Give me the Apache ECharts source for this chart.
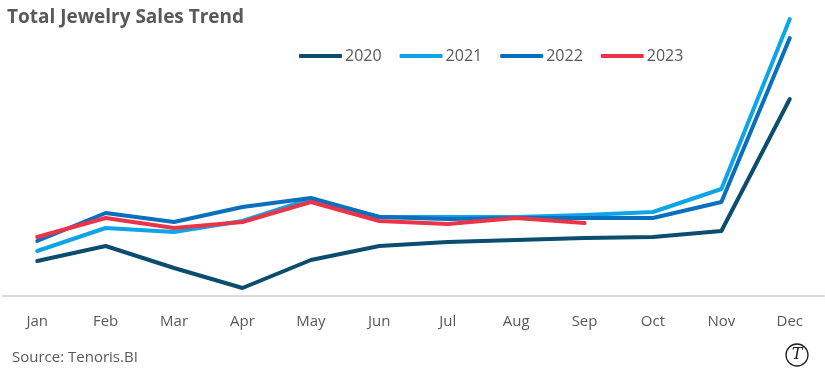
<!DOCTYPE html>
<html>
<head>
<meta charset="utf-8">
<script src="https://cdn.jsdelivr.net/npm/echarts@6/dist/echarts.min.js"></script>
<style>html,body{margin:0;padding:0;background:#fff}#c{width:825px;height:372px}</style>
</head>
<body>
<div id="c"></div>
<script>
const months = ['Jan','Feb','Mar','Apr','May','Jun','Jul','Aug','Sep','Oct','Nov','Dec'];
const s2020 = [35, 50, 28, 8, 36, 50, 54, 56, 58, 59, 65, 197];
const s2021 = [45, 68, 64, 75, 97, 79, 79, 79, 81, 84, 107, 277];
const s2022 = [55, 83, 74, 89, 98, 79, 77, 78, 78, 78, 94, 258];
const s2023 = [59, 78, 68, 74, 94, 75, 72, 78, 73];

const chart = echarts.init(document.getElementById('c'), null, {renderer:'canvas'});
const F = "'Open Sans', sans-serif";
function line(name, data, color){
  return {name, type:'line', data, symbol:'none', smooth:false,
    lineStyle:{width:4, color, cap:'round', join:'round'}, itemStyle:{color}, z: 2};
}
chart.setOption({
  animation:false,
  title:{text:'Total Jewelry Sales Trend', left:2, top:3,
    textStyle:{fontFamily:F, fontSize:19, fontWeight:'bold', color:'#595959'}},
  legend:{left:294, top:43, itemWidth:43, itemHeight:4, itemGap:18,
    icon:'roundRect',
    textStyle:{fontFamily:F, fontSize:16, color:'#595959', padding:[0,0,0,-2]},
    data:['2020','2021','2022','2023']},
  grid:{left:3, right:1, top:16, bottom:76, containLabel:false},
  xAxis:{type:'category', data:months, boundaryGap:true,
    axisLine:{lineStyle:{color:'#d9d9d9', width:2}},
    axisTick:{show:false},
    axisLabel:{fontFamily:F, fontSize:15, color:'#595959', margin:18}},
  yAxis:{type:'value', min:0, max:280, show:false, splitLine:{show:false}},
  series:[
    line('2020', s2020, '#0b4d6e'),
    line('2021', s2021, '#0ea5e8'),
    line('2022', s2022, '#0a6fbd'),
    line('2023', s2023, '#ec3449')
  ],
  graphic:[
    {type:'text', left:12, top:350, style:{text:'Source: Tenoris.BI', font:"15px 'Open Sans', sans-serif", fill:'#595959'}},
    {type:'circle', shape:{cx:797, cy:355, r:11}, style:{fill:'#fff', stroke:'#222', lineWidth:1.3}},
    {type:'text', x:797, y:355, style:{text:'T', font:"italic 16px 'DejaVu Serif', serif", fill:'#222', align:'center', verticalAlign:'middle'}}
  ]
});
</script>
</body>
</html>
